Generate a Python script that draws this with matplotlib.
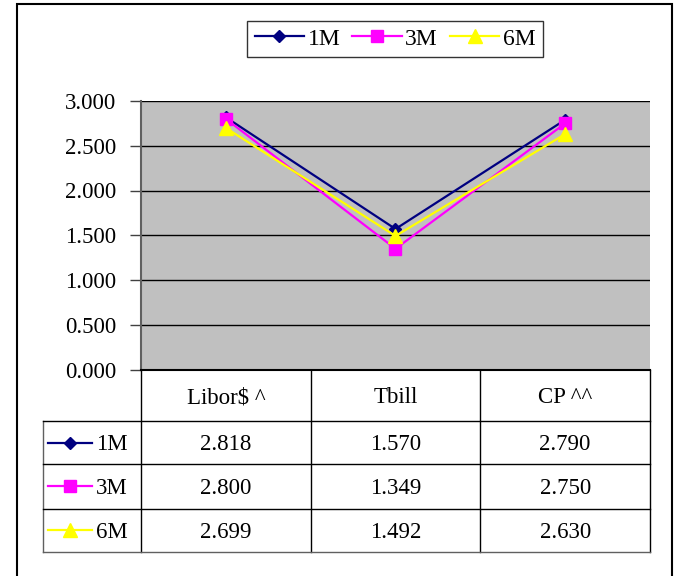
import matplotlib
matplotlib.use("Agg")
import matplotlib.pyplot as plt
from matplotlib.lines import Line2D
from matplotlib.patches import Rectangle
import matplotlib.transforms as mtransforms

categories = ["Libor$ ^", "Tbill", "CP ^^"]
series_names = ["1M", "3M", "6M"]
values_1m = [2.818, 1.570, 2.790]
values_3m = [2.800, 1.349, 2.750]
values_6m = [2.699, 1.492, 2.630]
series_values = [values_1m, values_3m, values_6m]
yticks = [0.0, 0.5, 1.0, 1.5, 2.0, 2.5, 3.0]

colors = ["#000080", "#FF00FF", "#FFFF00"]
markers = ["D", "s", "^"]
msizes = [6.5, 8.5, 9.5]

W, H = 674, 576
plt.rcParams["font.family"] = ["Liberation Serif", "DejaVu Serif"]
FS = 16.5

fig = plt.figure(figsize=(W / 100, H / 100), dpi=100)

def fx(x):
    return x / W

def fy(y):
    return 1 - y / H

# outer frame
fig.add_artist(Rectangle((fx(17), fy(590)), fx(672) - fx(17), fy(4) - fy(590),
                         transform=fig.transFigure, fill=False, edgecolor="black", lw=1.5))

top, bot, left, right = 101, 369.5, 141, 650
ax = fig.add_axes([fx(left), fy(bot), fx(right) - fx(left), fy(top) - fy(bot)])
ax.set_facecolor("#C0C0C0")
ax.set_xlim(-0.5, len(categories) - 0.5)
ax.set_ylim(0, 3)
ax.set_yticks(yticks)
ax.set_yticklabels([f"{v:.3f}" for v in yticks], fontsize=FS)
ax.set_xticks([])
ax.tick_params(axis="y", length=8, width=1, color="#404040", pad=10)
ax.yaxis.grid(True, color="black", lw=1)
ax.set_axisbelow(True)
for s in ["top", "right"]:
    ax.spines[s].set_visible(False)
ax.spines["left"].set_color("#606060")
ax.spines["left"].set_linewidth(1.5)
ax.spines["bottom"].set_color("black")
ax.spines["bottom"].set_linewidth(1.5)

xs = list(range(len(categories)))
handles = []
for name, vals, c, m, ms in zip(series_names, series_values, colors, markers, msizes):
    h, = ax.plot(xs, vals, color=c, lw=1.6, marker=m, markersize=ms,
                 markerfacecolor=c, markeredgecolor=c, label=name, clip_on=False)
    handles.append(h)

leg = fig.legend(handles=handles, loc="center", bbox_to_anchor=(fx(395), fy(39)),
                 ncol=3, fontsize=FS + 0.5, frameon=True, fancybox=False, edgecolor="black",
                 handlelength=2.1, handletextpad=0.15, columnspacing=0.5,
                 borderpad=0.3, borderaxespad=0)
leg.get_frame().set_linewidth(1.0)

# data table
bt = mtransforms.blended_transform_factory(ax.transData, fig.transFigure)
row_edges = [bot, 421, 464, 508.5, 552]
legcol_left = 43
col_edges = [-0.5 + i for i in range(len(categories) + 1)]
DY = 2.5  # small downward nudge for visual centring

def hline(x0, x1, y, color="black", lw=1.0):
    fig.add_artist(Line2D([fx(x0), fx(x1)], [fy(y), fy(y)], transform=fig.transFigure,
                          color=color, lw=lw))

def vline(x, y0, y1, color="black", lw=1.0, trans=None):
    fig.add_artist(Line2D([x, x], [fy(y0), fy(y1)], transform=trans, color=color, lw=lw))

for ce in col_edges:
    vline(ce, bot, 552, trans=bt)
vline(fx(legcol_left), 421, 552, color="#606060", trans=fig.transFigure)
for i, ry in enumerate(row_edges[1:]):
    hline(legcol_left, right, ry, color="#606060" if i == len(row_edges) - 2 else "black")

# header
hy = (row_edges[0] + row_edges[1]) / 2
for i, cat in enumerate(categories):
    fig.text(i, fy(hy + DY), cat, transform=bt, ha="center", va="center", fontsize=FS)

for r, (name, vals, c, m, ms) in enumerate(zip(series_names, series_values, colors, markers, msizes)):
    cy = (row_edges[r + 1] + row_edges[r + 2]) / 2
    for i, v in enumerate(vals):
        fig.text(i, fy(cy + DY), f"{v:.3f}", transform=bt, ha="center", va="center", fontsize=FS)
    fig.add_artist(Line2D([fx(48), fx(92)], [fy(cy), fy(cy)], transform=fig.transFigure,
                          color=c, lw=1.6))
    fig.add_artist(Line2D([fx(70)], [fy(cy)], transform=fig.transFigure, color=c,
                          marker=m, markersize=ms, markerfacecolor=c, markeredgecolor=c,
                          linestyle="none"))
    fig.text(fx(96), fy(cy + DY), name, ha="left", va="center", fontsize=FS)

fig.savefig("out.png", dpi=100)
